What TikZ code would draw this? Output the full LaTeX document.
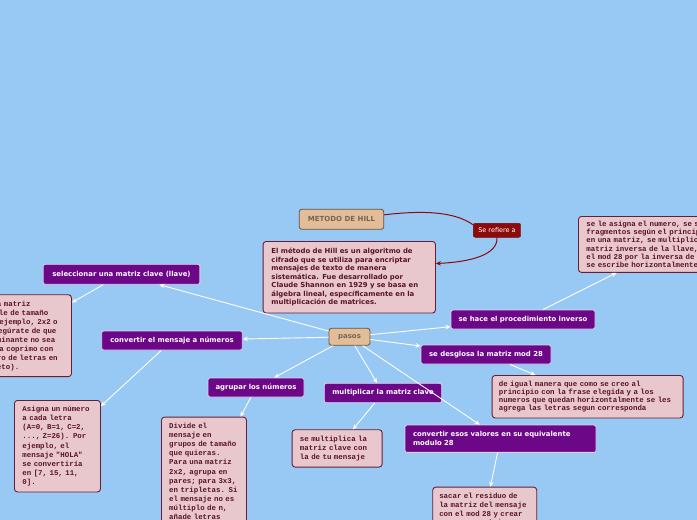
\documentclass[tikz,border=0pt]{standalone}
\usepackage{fontspec}
\setmainfont{DejaVu Sans}
\newfontfamily\monof{Liberation Mono}
\usetikzlibrary{arrows.meta}
\definecolor{bgblue}{RGB}{152,200,244}
\definecolor{purp}{RGB}{108,8,136}
\definecolor{pinkfill}{RGB}{233,200,205}
\definecolor{pinkline}{RGB}{105,28,52}
\definecolor{pinktext}{RGB}{90,18,38}
\definecolor{tanfill}{RGB}{226,189,152}
\definecolor{tanline}{RGB}{110,82,55}
\definecolor{tantext}{RGB}{120,100,85}
\definecolor{darkred}{RGB}{140,10,10}
\begin{document}
\begin{tikzpicture}[x=1pt,y=-1pt,
  purpnode/.style={draw=white!80!purp, fill=purp, line width=0.8pt, rounded corners=2pt, text=white, font=\fontsize{6.9}{8.6}\selectfont\bfseries, inner sep=0pt},
  tannode/.style={draw=tanline, fill=tanfill, line width=0.8pt, rounded corners=2.5pt, text=tantext, font=\fontsize{7}{8.5}\selectfont\bfseries, inner sep=0pt},
  pinknode/.style={draw=pinkline, fill=pinkfill, line width=0.9pt, rounded corners=3pt, text=pinktext, anchor=north west, align=left, inner xsep=8pt, inner ysep=6pt},
  monotext/.style={font=\monof\bfseries\fontsize{7.4}{9}\selectfont},
  conn/.style={draw=white, line width=0.9pt, -{Stealth[length=5pt,width=4.5pt]}},
  redconn/.style={draw=darkred, line width=1pt},
]
\useasboundingbox (0,0) rectangle (697,520);
\clip (0,0) rectangle (697,520);
\fill[bgblue] (0,0) rectangle (697,520);

% central nodes
\node[tannode, minimum width=84.4pt, minimum height=20pt] (metodo) at (341.5,219.3) {METODO DE HILL};
\node[draw=darkred!80!black, fill=darkred, rounded corners=2pt, text=white, font=\fontsize{6.5}{8}\selectfont, minimum width=47.4pt, minimum height=14pt, inner sep=0pt] (refiere) at (497,230.3) {Se refiere a};
\node[pinknode, font=\bfseries\fontsize{6.9}{8.5}\selectfont, text width=155.7pt, inner xsep=8.3pt, inner ysep=6.8pt] (desc) at (262.7,241) {El método de Hill es un algoritmo de\\cifrado que se utiliza para encriptar\\mensajes de texto de manera\\sistemática. Fue desarrollado por\\Claude Shannon en 1929 y se basa en\\álgebra lineal, específicamente en la\\multiplicación de matrices.};
\node[tannode, minimum width=41pt, minimum height=17pt] (pasos) at (349.5,336.8) {pasos};

% purple nodes
\node[purpnode, minimum width=156.7pt, minimum height=20pt] (sel) at (121.5,274.3) {seleccionar una matriz clave (llave)};
\node[purpnode, minimum width=140.6pt, minimum height=19pt] (conv) at (172,340.5) {convertir el mensaje a números};
\node[purpnode, minimum width=96pt, minimum height=19pt] (agr) at (256,387.5) {agrupar los números};
\node[purpnode, minimum width=117.4pt, minimum height=19.4pt] (mult) at (383,393) {multiplicar la matriz clave};
\node[purpnode, minimum width=191pt, minimum height=27.3pt, align=left, text width=175pt] (modn) at (500.5,438.7) {convertir esos valores en su equivalente\\modulo 28};
\node[purpnode, minimum width=144pt, minimum height=19pt] (inv) at (523,319.5) {se hace el procedimiento inverso};
\node[purpnode, minimum width=130pt, minimum height=19pt] (desg) at (486,354.5) {se desglosa la matriz mod 28};

% pink text boxes
\node[pinknode, monotext, text width=100pt] (choose) at (-45,294.3) {Elige una matriz\\\mbox{invertible de tamaño}\\\mbox{nxn (por ejemplo, 2x2 o}\\\mbox{3x3). Asegúrate de que}\\\mbox{su determinante no sea}\\\mbox{cero y sea coprimo con}\\\mbox{26 (número de letras en}\\el alfabeto).};
\node[pinknode, monotext, font=\monof\bfseries\fontsize{7.4}{9.2}\selectfont, text width=70pt, inner ysep=5.5pt] (asigna) at (14,400) {\mbox{Asigna un número}\\a cada letra\\\mbox{(A=0, B=1, C=2,}\\\mbox{..., Z=26). Por}\\ejemplo, el\\\mbox{mensaje "HOLA"}\\\mbox{se convertiría}\\\mbox{en [7, 15, 11,}\\0].};
\node[pinknode, monotext, font=\monof\bfseries\fontsize{7.4}{9.1}\selectfont, text width=69.5pt, inner xsep=7.75pt] (divide) at (161,416.7) {Divide el\\mensaje en\\\mbox{grupos de tamaño}\\que quieras.\\\mbox{Para una matriz}\\\mbox{2x2, agrupa en}\\\mbox{pares; para 3x3,}\\\mbox{en tripletas. Si}\\\mbox{el mensaje no es}\\\mbox{múltiplo de n,}\\añade letras\\de relleno\\(por ejemplo,\\X) al final.};
\node[pinknode, monotext, font=\monof\bfseries\fontsize{7.4}{8.8}\selectfont, text width=74.4pt, inner xsep=7.8pt, inner ysep=6.4pt] (smult) at (291.7,429.3) {\mbox{se multiplica la}\\\mbox{matriz clave con}\\\mbox{la de tu mensaje}};
\node[pinknode, monotext, font=\monof\bfseries\fontsize{7.4}{8.8}\selectfont, text width=91pt, inner xsep=6.5pt] (sacar) at (432.3,486.7) {\mbox{sacar el residuo de}\\\mbox{la matriz del mensaje}\\\mbox{con el mod 28 y crear}\\una nueva matriz\\con esos valores.};
\node[pinknode, monotext, font=\monof\bfseries\fontsize{7.4}{8}\selectfont, text width=177.5pt, inner xsep=6.75pt, inner ysep=5.8pt] (igual) at (491.7,375) {\mbox{de igual manera que como se creo al}\\\mbox{principio con la frase elegida y a los}\\\mbox{numeros que quedan horizontalmente se les}\\\mbox{agrega las letras segun corresponda}};
\node[pinknode, monotext, font=\monof\bfseries\fontsize{7.4}{8.3}\selectfont, text width=174pt, inner ysep=4.5pt] (topr) at (578,216) {\mbox{se le asigna el numero, se separa en}\\\mbox{fragmentos según el principio, se ponen}\\\mbox{en una matriz, se multiplica por la}\\\mbox{matriz inversa de la llave, se saca}\\\mbox{el mod 28 por la inversa de cada valor y}\\se escribe horizontalmente};

% red connectors
\draw[redconn] (metodo.6) .. controls (425,210) and (455,212) .. (refiere.167);
\draw[redconn, -{Stealth[length=5pt,width=4.5pt]}] (refiere.south) .. controls (498,255) and (470,262) .. (desc.9);

% white connectors
\draw[conn] (pasos) -- (sel);
\draw[conn] (pasos) -- (conv);
\draw[conn] (pasos) -- (agr);
\draw[conn] (pasos) -- (mult);
\draw[conn] (pasos) -- (modn);
\draw[conn] (pasos) -- (desg);
\draw[conn] (pasos) -- (inv);
\draw[conn] (inv) -- (topr);
\draw[conn] (desg) -- (igual);
\draw[conn] (mult) -- (smult);
\draw[conn] (modn) -- (sacar);
\draw[conn] (sel) -- (choose);
\draw[conn] (conv) -- (asigna);
\draw[conn] (agr) -- (divide);
\end{tikzpicture}
\end{document}
